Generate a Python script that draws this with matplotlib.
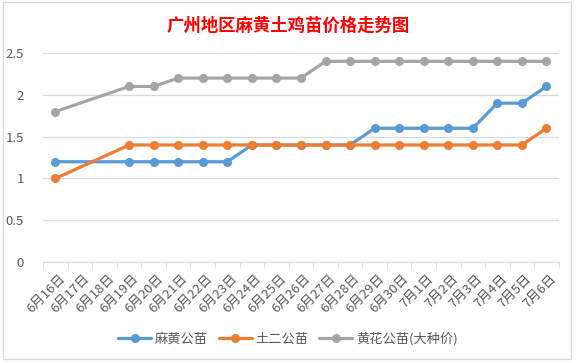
import matplotlib.pyplot as plt
import numpy as np

plt.rcParams['font.family'] = ['Noto Sans CJK SC', 'DejaVu Sans']

# 日期和价格
riqi = ["6月16日", "6月17日", "6月18日", "6月19日", "6月20日", "6月21日",
        "6月22日", "6月23日", "6月24日", "6月25日", "6月26日", "6月27日",
        "6月28日", "6月29日", "6月30日", "7月1日", "7月2日", "7月3日",
        "7月4日", "7月5日", "7月6日"]
mahuang = [1.2, None, None, 1.2, 1.2, 1.2, 1.2, 1.2, 1.4, 1.4, 1.4, 1.4,
           1.4, 1.6, 1.6, 1.6, 1.6, 1.6, 1.9, 1.9, 2.1]
tuer = [1.0, None, None, 1.4, 1.4, 1.4, 1.4, 1.4, 1.4, 1.4, 1.4, 1.4,
        1.4, 1.4, 1.4, 1.4, 1.4, 1.4, 1.4, 1.4, 1.6]
huanghua = [1.8, None, None, 2.1, 2.1, 2.2, 2.2, 2.2, 2.2, 2.2, 2.2, 2.4,
            2.4, 2.4, 2.4, 2.4, 2.4, 2.4, 2.4, 2.4, 2.4]
namen = ["麻黄公苗", "土二公苗", "黄花公苗(大种价)"]
kleuren = ["#5B9BD5", "#ED7D31", "#A5A5A5"]

fig = plt.figure(figsize=(5.76, 3.63), dpi=100)
ax = fig.add_axes([0.075, 0.278, 0.895, 0.576])

x = np.arange(len(riqi))
for reeks, naam, kleur in zip([mahuang, tuer, huanghua], namen, kleuren):
    idx = [i for i, v in enumerate(reeks) if v is not None]
    ax.plot(x[idx], [reeks[i] for i in idx], color=kleur, lw=2.3,
            marker='o', ms=5.5, label=naam, solid_capstyle='round')

ax.set_xlim(-0.5, len(riqi) - 0.5)
ax.set_ylim(0, 2.5)
ax.set_yticks([0, 0.5, 1, 1.5, 2, 2.5])
ax.set_yticklabels(["0", "0.5", "1", "1.5", "2", "2.5"])
ax.yaxis.grid(True, color='#D9D9D9', lw=0.9)
ax.set_axisbelow(True)
for s in ['top', 'right', 'left']:
    ax.spines[s].set_visible(False)
ax.spines['bottom'].set_color('#D9D9D9')
ax.tick_params(axis='y', length=0, labelsize=9.5, labelcolor='#595959', pad=14)

ax.set_xticks(x)
ax.set_xticklabels(riqi, rotation=45, ha='right', va='top',
                   rotation_mode='anchor', fontsize=9.5, color='#595959')
ax.tick_params(axis='x', which='major', length=0, pad=7)
ax.set_xticks(np.arange(-0.5, len(riqi)), minor=True)
ax.tick_params(axis='x', which='minor', length=4, color='#D9D9D9')
for lbl in ax.get_xticklabels():
    lbl.set_transform(lbl.get_transform() +
                      plt.matplotlib.transforms.ScaledTranslation(0.03, 0, fig.dpi_scale_trans))

fig.text(0.5, 0.93, "广州地区麻黄土鸡苗价格走势图", color='red', fontsize=12.5,
         fontweight='bold', ha='center', va='center')
fig.legend(loc='center', bbox_to_anchor=(0.5, 0.066), ncol=3, frameon=False,
           fontsize=9.5, labelcolor='#595959', handlelength=2.5,
           handletextpad=0.3, columnspacing=0.8)

rand = plt.Rectangle((0.006, 0.01), 0.985, 0.985, transform=fig.transFigure,
                     fill=False, edgecolor='#D9D9D9', lw=1)
fig.patches.append(rand)

fig.savefig("out.png", dpi=100)
